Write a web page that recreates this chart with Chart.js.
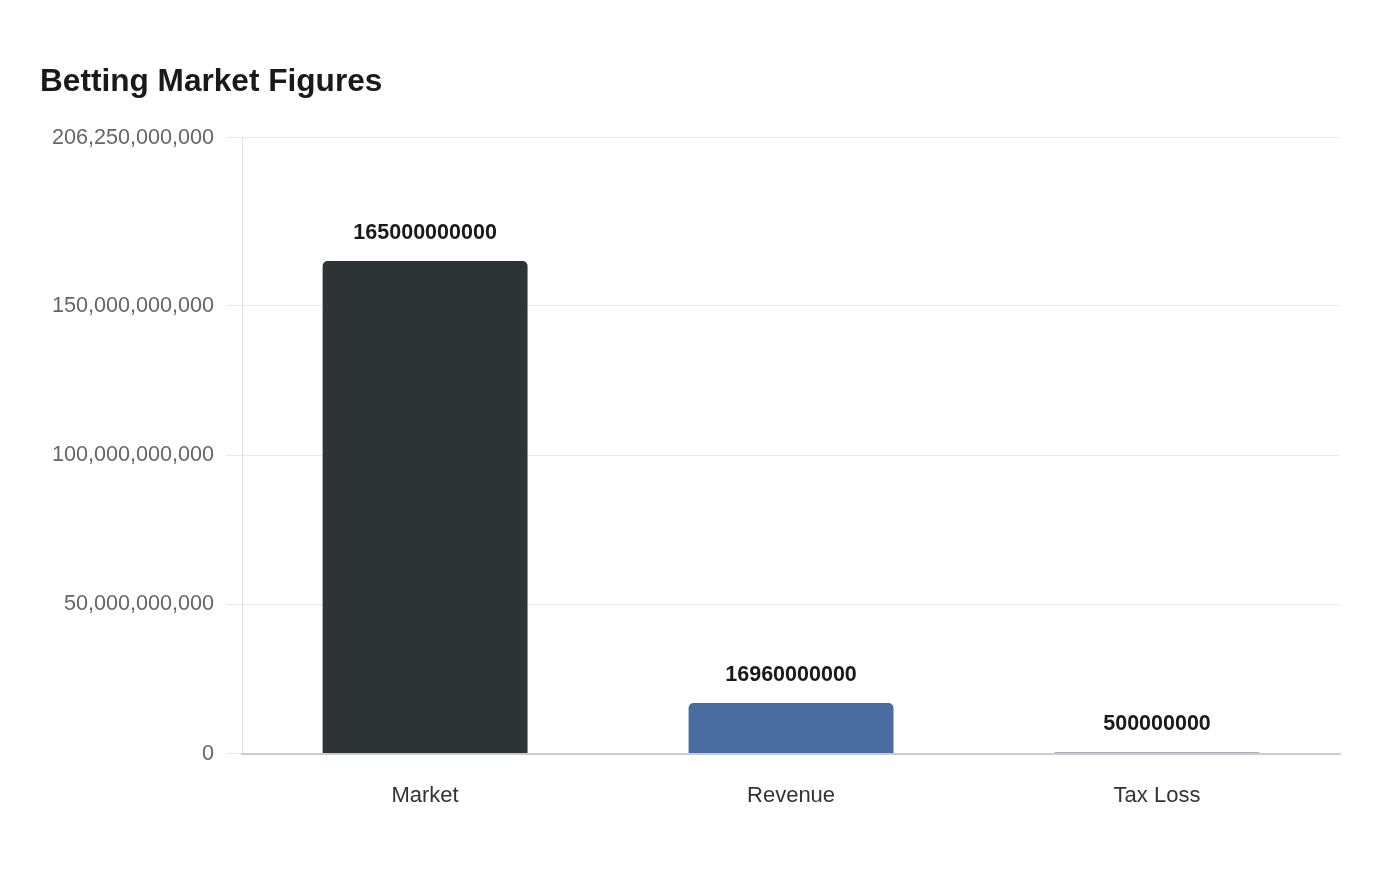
<!DOCTYPE html>
<html>
<head>
    <title>Betting Market Figures</title>
    <script src="https://cdn.jsdelivr.net/npm/chart.js"></script>
    <style>
        html, body { margin: 0; padding: 0; background: #fff; }
        #wrap { width: 1400px; height: 880px; }
    </style>
</head>
<body>
    <div id="wrap"><canvas id="betChart"></canvas></div>
    <script>
        var categories = ['Market', 'Revenue', 'Tax Loss'];
        var amounts = [165000000000, 16960000000, 500000000];
        var barColors = ['#2d3436', '#4a6da1', '#a4b0be'];
        var yMax = 206250000000;

        // draws the value above each bar
        var valueLabels = {
            id: 'valueLabels',
            afterDatasetsDraw: function (chart) {
                var ctx = chart.ctx;
                var meta = chart.getDatasetMeta(0);
                ctx.save();
                ctx.font = 'bold 21.5px "Liberation Sans", Arial, sans-serif';
                ctx.fillStyle = '#1a1a1a';
                ctx.textAlign = 'center';
                ctx.textBaseline = 'middle';
                meta.data.forEach(function (bar, i) {
                    ctx.fillText(String(amounts[i]), bar.x, bar.y - 28);
                });
                ctx.restore();
            }
        };

        Chart.defaults.font.family = '"Liberation Sans", Arial, sans-serif';

        new Chart(document.getElementById('betChart'), {
            type: 'bar',
            data: {
                labels: categories,
                datasets: [{
                    label: 'Amount',
                    data: amounts,
                    backgroundColor: barColors,
                    borderRadius: 5,
                    borderSkipped: 'bottom',
                    barPercentage: 0.7,
                    categoryPercentage: 0.8
                }]
            },
            options: {
                responsive: true,
                maintainAspectRatio: false,
                animation: false,
                layout: { padding: { left: 40, right: 60, top: 40, bottom: 50 } },
                scales: {
                    y: {
                        beginAtZero: true,
                        max: yMax,
                        ticks: {
                            stepSize: 50000000000,
                            color: '#666',
                            font: { size: 21.6 },
                            padding: 12
                        },
                        grid: { color: '#e9e9e9', tickLength: 16 },
                        border: { color: '#e0e0e0' }
                    },
                    x: {
                        ticks: { color: '#333', font: { size: 22 }, padding: 21 },
                        grid: { display: false },
                        border: { color: '#cccccc', width: 2 }
                    }
                },
                plugins: {
                    legend: { display: false },
                    tooltip: { enabled: false },
                    title: {
                        display: true,
                        text: 'Betting Market Figures',
                        align: 'start',
                        color: '#1a1a1a',
                        font: { size: 31.6, weight: 'bold' },
                        padding: { top: 23, bottom: 37 }
                    }
                }
            },
            plugins: [valueLabels]
        });
    </script>
</body>
</html>
